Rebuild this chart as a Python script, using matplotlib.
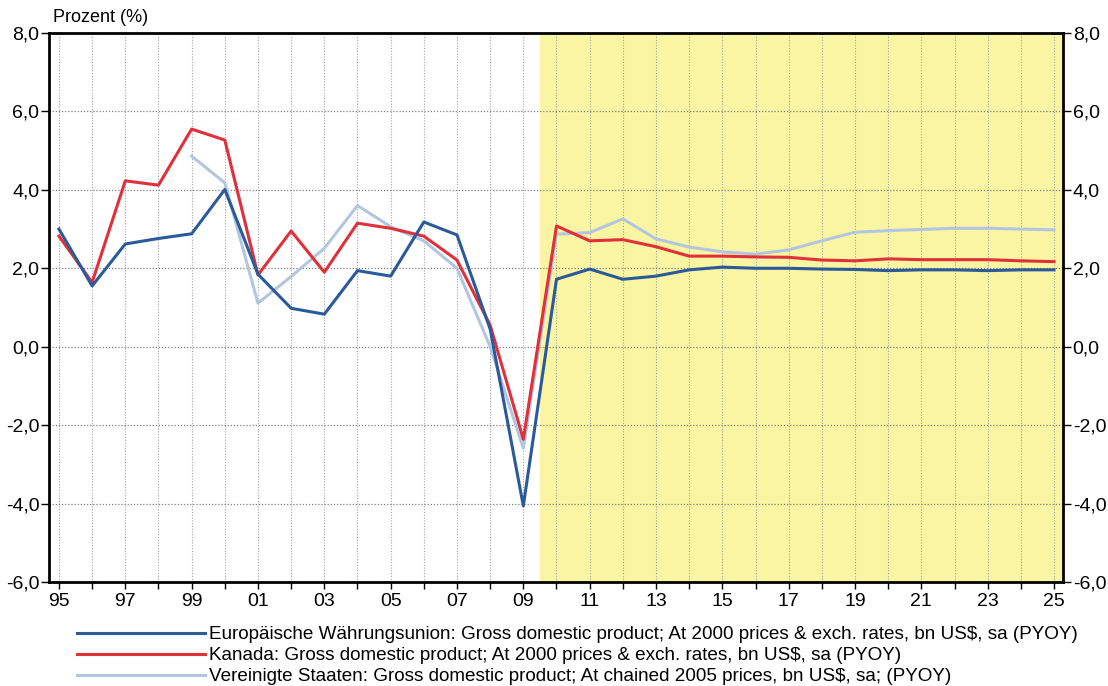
import numpy as np
import matplotlib
matplotlib.use("Agg")
import matplotlib.pyplot as plt
from matplotlib.ticker import FuncFormatter, MultipleLocator

plt.rcParams['font.family'] = ['Liberation Sans', 'DejaVu Sans']

years = list(range(1995, 2026))

# Europäische Währungsunion
ewu = [3.00, 1.55, 2.62, 2.76, 2.88, 4.01, 1.85, 0.98, 0.83, 1.94,
       1.80, 3.18, 2.85, 0.45, -4.06, 1.72, 1.98, 1.72, 1.80, 1.96,
       2.03, 2.00, 2.00, 1.98, 1.97, 1.94, 1.96, 1.96, 1.94, 1.96, 1.96]

# Kanada
kanada = [2.82, 1.64, 4.23, 4.12, 5.55, 5.27, 1.83, 2.95, 1.90, 3.15,
          3.02, 2.82, 2.21, 0.55, -2.36, 3.08, 2.70, 2.73, 2.55, 2.31,
          2.31, 2.29, 2.28, 2.21, 2.19, 2.24, 2.22, 2.22, 2.22, 2.19, 2.17]

# Vereinigte Staaten (ab 1999)
usa_years = list(range(1999, 2026))
usa = [4.86, 4.18, 1.11, 1.79, 2.51, 3.60, 3.06, 2.70, 2.00, 0.00,
       -2.59, 2.87, 2.91, 3.26, 2.75, 2.54, 2.42, 2.36, 2.47, 2.70,
       2.92, 2.96, 2.99, 3.02, 3.02, 3.00, 2.98]

labels = [
    "Europäische Währungsunion: Gross domestic product; At 2000 prices & exch. rates, bn US$, sa (PYOY)",
    "Kanada: Gross domestic product; At 2000 prices & exch. rates, bn US$, sa (PYOY)",
    "Vereinigte Staaten: Gross domestic product; At chained 2005 prices, bn US$, sa; (PYOY)",
]
colors = ["#2B5A9B", "#E0303A", "#B3C6E0"]
forecast_start = 2009.5

fig = plt.figure(figsize=(11.08, 6.86), dpi=100)
ax = fig.add_axes([49 / 1108, 1 - 582 / 686, (1063 - 49) / 1108, (582 - 33) / 686])

ax.axvspan(forecast_start, 2025.27, color="#FAF5A2", zorder=0, lw=0)

l1, = ax.plot(years, ewu, color=colors[0], lw=2.2, zorder=4)
l2, = ax.plot(years, kanada, color=colors[1], lw=2.2, zorder=3)
l3, = ax.plot(usa_years, usa, color=colors[2], lw=2.2, zorder=2)

ax.set_xlim(1994.7, 2025.27)
ax.set_ylim(-6, 8)

ax.xaxis.set_major_locator(MultipleLocator(2, offset=1))
ax.xaxis.set_minor_locator(MultipleLocator(1))
ax.xaxis.set_major_formatter(FuncFormatter(lambda v, p: f"{int(round(v)) % 100:02d}"))
ax.yaxis.set_major_locator(MultipleLocator(2))
ax.yaxis.set_major_formatter(FuncFormatter(lambda v, p: f"{v:.1f}".replace(".", ",")))

ax.grid(True, which="both", axis="x", ls=(0, (1, 1.5)), color="#a5a5a5", lw=0.8)
ax.grid(True, which="major", axis="y", ls=(0, (1, 1.5)), color="#808080", lw=0.9)
ax.set_axisbelow(True)

ax.tick_params(axis="x", which="both", direction="out", length=5, width=1, labelsize=14, pad=3)
ax.tick_params(axis="y", which="major", direction="out", length=6, width=1, labelsize=14,
               left=True, right=True, labelleft=True, labelright=True, pad=1)
for s in ax.spines.values():
    s.set_linewidth(2)
    s.set_color("black")

fig.text(53 / 1108, 1 - 18 / 686, "Prozent (%)", fontsize=13, va="center", ha="left")

fig.legend([l1, l2, l3], labels, loc="upper left", bbox_to_anchor=(77 / 1108, 1 - 626 / 686),
           frameon=False, fontsize=13.6, handlelength=6.8, handletextpad=0.2,
           labelspacing=0.2, borderpad=0, borderaxespad=0)

fig.savefig("out.png", dpi=100)
